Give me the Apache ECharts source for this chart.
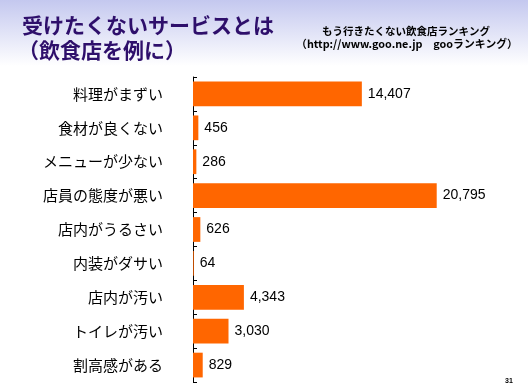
<!DOCTYPE html>
<html>
<head>
<meta charset="utf-8">
<script src="https://cdn.jsdelivr.net/npm/echarts@6/dist/echarts.min.js"></script>
<style>html,body{margin:0;padding:0;background:#fff}#c{width:528px;height:392px}</style>
</head>
<body>
<div id="c"></div>
<script>
const titleLines = ['受けたくないサービスとは', '（飲食店を例に）'];
const subtitleLines = ['もう行きたくない飲食店ランキング', '（http://www.goo.ne.jp　gooランキング）'];
const pageNumber = '31';
const categories = ['料理がまずい', '食材が良くない', 'メニューが少ない', '店員の態度が悪い', '店内がうるさい', '内装がダサい', '店内が汚い', 'トイレが汚い', '割高感がある'];
const values = [14407, 456, 286, 20795, 626, 64, 4343, 3030, 829];

const chart = echarts.init(document.getElementById('c'), null, {renderer: 'canvas'});
chart.setOption({
  animation: false,
  backgroundColor: '#ffffff',
  graphic: [
    {type: 'rect', z: -10, silent: true, shape: {x: 0, y: 0, width: 528, height: 66},
      style: {fill: new echarts.graphic.LinearGradient(0, 0, 0, 1, [
        {offset: 0, color: '#c4c8ef'}, {offset: 1, color: '#ffffff'}])}},
    {type: 'text', left: 22, top: 15, style: {text: titleLines[0], fill: '#2e0f6b',
      font: 'bold 21px "Noto Sans CJK JP"'}},
    {type: 'text', left: 18, top: 40, style: {text: titleLines[1], fill: '#2e0f6b',
      font: 'bold 21px "Noto Sans CJK JP"'}},
    {type: 'text', x: 406, y: 31, style: {text: subtitleLines[0], fill: '#000', align: 'center', verticalAlign: 'middle',
      font: 'bold 10.5px "Noto Sans CJK JP"'}},
    {type: 'text', x: 407, y: 44, style: {text: subtitleLines[1], fill: '#000', align: 'center', verticalAlign: 'middle',
      font: 'bold 10.8px "Noto Sans CJK JP"'}},
    {type: 'text', x: 509, y: 381, style: {text: pageNumber, fill: '#000', align: 'center', verticalAlign: 'middle',
      font: 'bold 7px "Liberation Sans"'}}
  ],
  grid: {left: 193, top: 77, width: 293, bottom: 10, containLabel: false},
  xAxis: {type: 'value', min: 0, max: 25000, show: false},
  yAxis: {
    type: 'category', data: categories, inverse: true,
    axisLine: {show: true, lineStyle: {color: '#000', width: 1}},
    axisTick: {show: true, inside: true, length: 4, lineStyle: {color: '#000'}},
    axisLabel: {color: '#000', fontSize: 15, fontFamily: '"Noto Sans CJK JP"', margin: 30},
    splitLine: {show: false}
  },
  series: [{
    type: 'bar', data: values, barCategoryGap: '27%',
    itemStyle: {color: '#ff6600'},
    label: {show: true, position: 'right', distance: 6, color: '#000', fontSize: 14,
      fontFamily: '"Liberation Sans", Arial, sans-serif',
      formatter: p => p.value.toLocaleString('en-US')}
  }]
});
</script>
</body>
</html>
